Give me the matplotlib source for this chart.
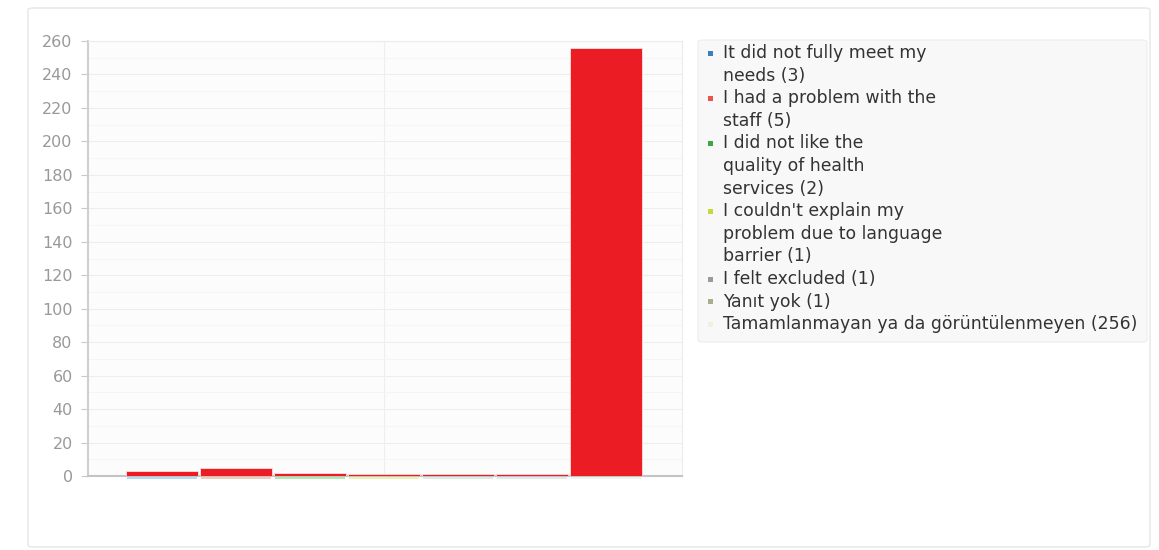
"""Survey bar chart: reasons for dissatisfaction (counts), legend at right."""

import matplotlib
matplotlib.use("Agg")
import matplotlib.pyplot as plt
from matplotlib.patches import FancyBboxPatch, Rectangle

plt.rcParams["font.family"] = ["DejaVu Sans"]

labels = [
    "It did not fully meet my\nneeds (3)",
    "I had a problem with the\nstaff (5)",
    "I did not like the\nquality of health\nservices (2)",
    "I couldn't explain my\nproblem due to language\nbarrier (1)",
    "I felt excluded (1)",
    "Yanıt yok (1)",
    "Tamamlanmayan ya da görüntülenmeyen (256)",
]
counts = [3, 5, 2, 1, 1, 1, 256]
marker_colors = ["#3b7fc0", "#e8554e", "#3aa845", "#c6d83a", "#9a9a9a", "#a9ad8a", "#f3efe0"]
base_colors = ["#a9d4f5", "#f8c0a8", "#9fe89a", "#f2ee9c", "#d8e8d8", "#e0e6e0", "#f0f0f0"]
yticks = list(range(0, 261, 20))

W, H = 1159, 550
fig = plt.figure(figsize=(W / 100, H / 100), dpi=100)
fig.patch.set_facecolor("white")

# card border
fig.patches.append(FancyBboxPatch((28 / W, 3 / H), 1122 / W, 539 / H,
                                  boxstyle="round,pad=0,rounding_size=0.004",
                                  transform=fig.transFigure, fc="white",
                                  ec="#e6e6e6", lw=1.0, zorder=-5))

ax = fig.add_axes([88 / W, (H - 476) / H, (682 - 88) / W, (476 - 41) / H])
ax.set_zorder(2)
ax.set_facecolor("#fcfcfc")
x = list(range(len(counts)))
ax.bar(x, counts, width=0.97, color="#ec1c24", edgecolor="#fbe0e0", lw=0.6, zorder=3)
for xi, c in zip(x, base_colors):
    ax.plot([xi - 0.47, xi + 0.47], [-0.9, -0.9], color=c, lw=1.2, zorder=2,
            solid_capstyle="butt", clip_on=False)
ax.set_xlim(-1, 7.03)
ax.set_ylim(0, 260)
ax.set_yticks(yticks)
ax.set_yticks(range(10, 260, 20), minor=True)
ax.set_xticks([])
ax.tick_params(axis="y", colors="#c8c8c8", labelcolor="#999999", labelsize=11.5,
               length=5, width=0.8, pad=6)
ax.tick_params(axis="y", which="minor", length=0)
ax.grid(axis="y", which="major", color="#eeeeee", lw=0.8)
ax.grid(axis="y", which="minor", color="#f4f4f4", lw=0.6)
ax.axvline(3, color="#eeeeee", lw=0.8, zorder=1)
for s in ["top", "right"]:
    ax.spines[s].set_color("#ececec")
ax.spines["left"].set_color("#cfcfcf")
ax.spines["left"].set_linewidth(1.5)
ax.spines["bottom"].set_color("#c4c4c4")
ax.spines["bottom"].set_linewidth(1.5)

# legend box
fig.patches.append(FancyBboxPatch((698 / W, (H - 342) / H), 449 / W, 302 / H,
                                  boxstyle="round,pad=0,rounding_size=0.004",
                                  transform=fig.transFigure, fc="#f8f8f8",
                                  ec="#ececec", lw=0.8, zorder=1))
line_h = 22.6
row = 0
for lab, mc in zip(labels, marker_colors):
    y_px = 53 + line_h * row
    fig.patches.append(Rectangle((708 / W, (H - y_px - 2.5) / H), 5 / W, 5 / H,
                                 transform=fig.transFigure, fc=mc, ec="none", zorder=2))
    for k, part in enumerate(lab.split("\n")):
        fig.text(723 / W, (H - (y_px + line_h * k)) / H, part, fontsize=12.4,
                 color="#333333", va="center", ha="left", zorder=3)
    row += lab.count("\n") + 1

fig.savefig("out.png", dpi=100)
